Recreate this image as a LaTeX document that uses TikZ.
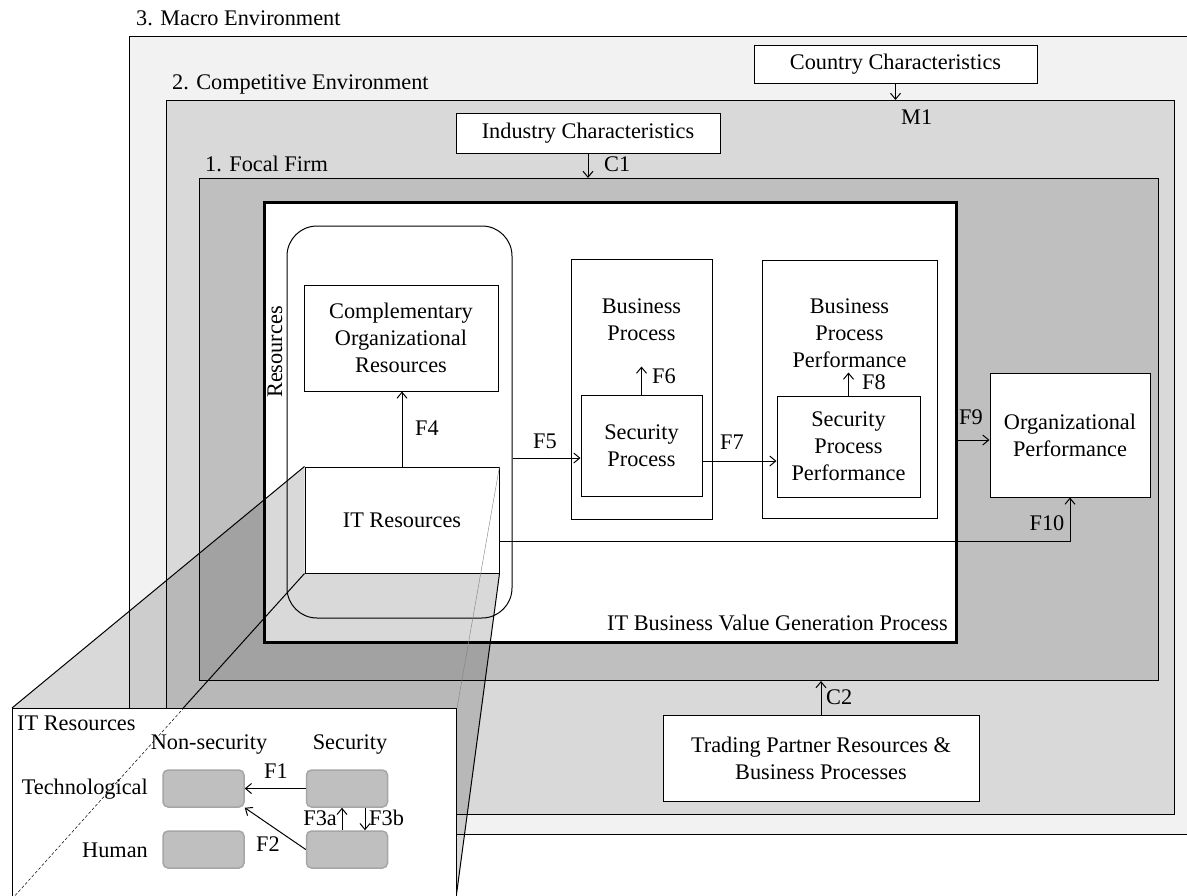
\documentclass[tikz,border=0pt]{standalone}
\usepackage{fontspec}
\setmainfont{Liberation Serif}
\usetikzlibrary{arrows.meta}

\definecolor{macrogray}{HTML}{F2F2F2}
\definecolor{compgray}{HTML}{D9D9D9}
\definecolor{firmgray}{HTML}{BFBFBF}
\definecolor{cellrim}{HTML}{A6A6A6}

\tikzset{
  layer/.style={draw, line width=1pt, anchor=north west, inner sep=0pt},
  box/.style={draw, fill=white, line width=1pt, align=center, inner sep=0pt},
  cell/.style={draw=cellrim, fill=firmgray, line width=1.5pt, rounded corners=5pt,
    minimum width=81pt, minimum height=37pt},
  link/.style={line width=1pt, -{Straight Barb[length=6pt,width=10pt]}},
  lbl/.style={inner sep=0pt},
}

\begin{document}
\begin{tikzpicture}[x=1pt, y=-1pt, font=\fontsize{22.3}{27}\selectfont]
\useasboundingbox (0,0) rectangle (1187,895);

% environments
\node[layer, fill=macrogray, minimum width=1070pt, minimum height=798pt] (macro) at (129,36) {};
\node[layer, fill=compgray, minimum width=1008pt, minimum height=714pt] (comp) at (166,100) {};
\node[layer, fill=firmgray, minimum width=959pt, minimum height=502pt] (focal) at (199,178) {};
\node[lbl, anchor=west] at (136,18) {3. Macro Environment};
\node[lbl, anchor=west] at (172,84) {2. Competitive Environment};
\node[lbl, anchor=west] at (205,164) {1. Focal Firm};

\node[box, minimum width=283pt, minimum height=38pt] (country) at (895.5,64) {Country Characteristics};
\draw[link] (country.south) -- (country.south |- comp.north);
\node[lbl, anchor=west] at (901,117) {M1};

\node[box, minimum width=264pt, minimum height=40pt] (industry) at (588,133) {Industry Characteristics};
\draw[link] (industry.south) -- (industry.south |- focal.north);
\node[lbl, anchor=west] at (604,164) {C1};

\node[box, minimum width=316pt, minimum height=86pt] (trading) at (821,758) {Trading Partner Resources \&\\Business Processes};
\draw[link] (trading.north) -- (trading.north |- focal.south);
\node[lbl, anchor=west] at (826,697) {C2};

% value generation process
\node[layer, fill=white, line width=3pt, minimum width=692pt, minimum height=440pt] (valproc) at (263,201) {};
\node[lbl, anchor=east] at (948,623) {IT Business Value Generation Process};

\node[draw, line width=1pt, rounded corners=30pt, minimum width=225pt, minimum height=392pt] (res) at (399.5,422) {};
\node[lbl, rotate=90] at (275,352) {Resources};
\node[box, minimum width=194pt, minimum height=106pt] (compres) at (401,338) {Complementary\\Organizational\\Resources};
\node[box, minimum width=194pt, minimum height=106pt] (it) at (402,520) {IT Resources};
\draw[link] (it.north) -- (it.north |- compres.south);
\node[lbl] at (427,428) {F4};

\node[box, minimum width=141pt, minimum height=260pt] (bp) at (641.5,389) {};
\node[lbl, align=center] at (641.5,320) {Business\\Process};
\node[box, minimum width=121pt, minimum height=101pt] (sp) at (641.5,445.5) {Security\\Process};
\draw[link] (sp.north) -- ++(0,-28);
\node[lbl, anchor=west] at (652,376) {F6};

\node[box, minimum width=175pt, minimum height=258pt] (bpp) at (849.5,389) {};
\node[lbl, align=center] at (849.5,333.5) {Business\\Process\\Performance};
\node[box, minimum width=143pt, minimum height=101pt] (spp) at (848.5,446.5) {Security\\Process\\Performance};
\draw[link] (spp.north) -- ++(0,-23);
\node[lbl, anchor=west] at (862,382) {F8};

\node[box, minimum width=160pt, minimum height=124pt] (org) at (1070,435) {Organizational\\Performance};

\draw[link] (res.east |- 0,458) -- (sp.west |- 0,458);
\node[lbl] at (545,441) {F5};
\draw[link] (sp.east |- 0,461) -- (spp.west |- 0,461);
\node[lbl] at (732,442) {F7};
\draw[link] (valproc.east |- 0,440) -- (org.west |- 0,440);
\node[lbl] at (971,417) {F9};
\draw[link] (it.east |- 0,541) -| (org.south);
\node[lbl] at (1047,523) {F10};

% zoom onto IT resources
\coordinate (inNW) at (12,708);
\coordinate (inSE) at (456,898);
\fill[black, opacity=0.15] (it.north west) -- (inNW) -- (inNW |- inSE) -- (inSE) -- (it.south east) -- (it.south west) -- cycle;
\draw[line width=1pt] (it.north west) -- (inNW);
\draw[line width=1pt] (it.south west) -- (inNW |- inSE);
\draw[line width=1pt] (it.south east) -- (inSE);
\node[layer, fill=white, minimum width=444pt, minimum height=190pt] (inset) at (inNW) {};
\begin{scope}
  \clip (inset.north west) rectangle (inset.south east);
  \draw[dashed, line width=0.5pt, dash pattern=on 3pt off 2pt] (it.south west) -- (inset.south west);
\end{scope}
\draw[line width=0.4pt, gray] (it.north east) -- (inset.north east);

\node[lbl, anchor=west] at (17,723) {IT Resources};
\node[lbl] at (209,745) {Non-security};
\node[lbl] at (350,745) {Security};
\node[lbl, anchor=east] at (148,789) {Technological};
\node[lbl, anchor=east] at (148,850) {Human};

\node[cell] (nontech) at (203.5,788.5) {};
\node[cell] (sectech) at (347,788.5) {};
\node[cell] (nonhum) at (203.5,849.5) {};
\node[cell] (sechum) at (347,849.5) {};

\draw[link] (sectech.west) -- (nontech.east);
\node[lbl] at (276,771) {F1};
\draw[link] (sechum.west) -- (nontech.south east);
\node[lbl] at (268,844) {F2};
\draw[link] ([xshift=-5pt]sechum.north) -- ([xshift=-5pt]sectech.south);
\node[lbl, anchor=east] at (337,818) {F3a};
\draw[link] ([xshift=18pt]sectech.south) -- ([xshift=18pt]sechum.north);
\node[lbl, anchor=west] at (369,818) {F3b};

\end{tikzpicture}
\end{document}
